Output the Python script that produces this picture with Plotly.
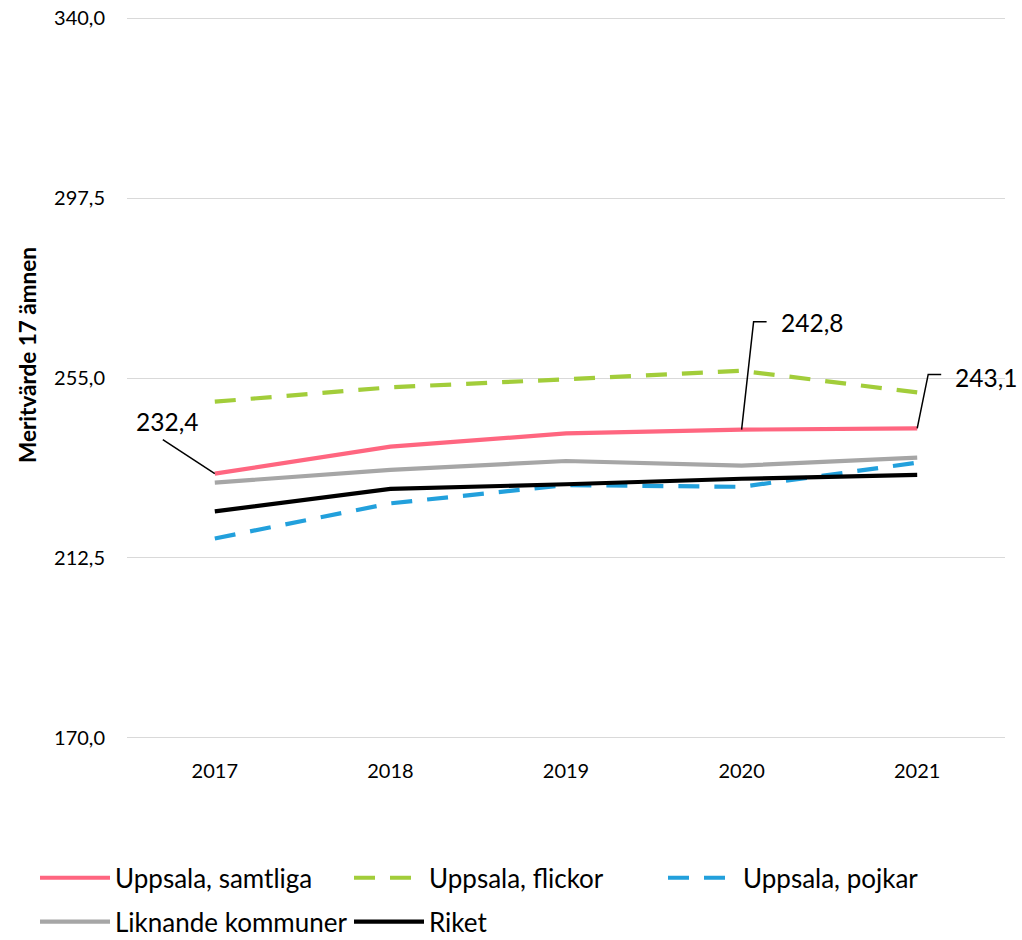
import plotly.graph_objects as go

years = [2017, 2018, 2019, 2020, 2021]
samtliga = [232.4, 238.8, 241.9, 242.8, 243.1]
flickor = [249.4, 252.8, 254.7, 256.7, 251.6]
pojkar = [217.1, 225.4, 229.7, 229.3, 235.0]
liknande = [230.3, 233.3, 235.4, 234.3, 236.2]
riket = [223.5, 228.8, 229.9, 231.2, 232.1]
ytick_vals = [170.0, 212.5, 255.0, 297.5, 340.0]

FONT = "Lato"
LBL_FONT = dict(family=FONT, size=24.5, color="#000000")

W, H = 1022, 940
YMIN, YMAX = 169.5, 340.5
PX_Y = 720 / 170.0               # pixels per unit on the y axis
PAD = (170 - YMIN) * PX_Y         # extra room so edge grid lines are drawn
ML, MR = 127, 17
MT, MB = 18 - PAD, 202 - PAD
PX_X = (W - ML - MR) / 5.0

fig = go.Figure()
series = [
    ("Uppsala, samtliga", samtliga, "#FF6680", "solid", "legend"),
    ("Uppsala, flickor", flickor, "#A2CD3A", "21px,15px", "legend"),
    ("Uppsala, pojkar", pojkar, "#22A0DC", "21px,15px", "legend"),
    ("Liknande kommuner", liknande, "#A6A6A6", "solid", "legend2"),
    ("Riket", riket, "#000000", "solid", "legend2"),
]
for name, vals, col, dash, leg in series:
    fig.add_trace(go.Scatter(
        x=years, y=vals, name=name, mode="lines",
        line=dict(color=col, width=4.2, dash=dash),
        legend=leg, hoverinfo="skip",
    ))

def dx(p):
    return p / PX_X

def dy(p):
    return -p / PX_Y

shapes = []
annots = []
# 2017 label
x0, y0 = years[0], samtliga[0]
shapes.append(dict(type="path", xref="x", yref="y",
                   path=f"M {x0},{y0} L {x0+dx(-52)},{y0+dy(-34)}",
                   line=dict(color="black", width=1.5)))
annots.append(dict(x=x0 + dx(-48), y=y0 + dy(-52), xref="x", yref="y",
                   text="232,4", showarrow=False, font=LBL_FONT))
# 2020 label
x0, y0 = years[3], samtliga[3]
shapes.append(dict(type="path", xref="x", yref="y",
                   path=f"M {x0},{y0} L {x0+dx(12)},{y0+dy(-108)} L {x0+dx(25)},{y0+dy(-108)}",
                   line=dict(color="black", width=1.5)))
annots.append(dict(x=x0 + dx(70), y=y0 + dy(-107), xref="x", yref="y",
                   text="242,8", showarrow=False, font=LBL_FONT))
# 2021 label
x0, y0 = years[4], samtliga[4]
shapes.append(dict(type="path", xref="x", yref="y",
                   path=f"M {x0},{y0} L {x0+dx(11)},{y0+dy(-54)} L {x0+dx(24)},{y0+dy(-54)}",
                   line=dict(color="black", width=1.5)))
annots.append(dict(x=x0 + dx(69), y=y0 + dy(-51), xref="x", yref="y",
                   text="243,1", showarrow=False, font=LBL_FONT))

plot_w = W - ML - MR
plot_h = H - MT - MB

def px_to_paper_x(px):
    return (px - ML) / plot_w

def px_to_paper_y(py):
    return (H - MB - py) / plot_h

# y-axis title
annots.append(dict(x=px_to_paper_x(27), y=px_to_paper_y(355),
                   xref="paper", yref="paper", showarrow=False, textangle=-90,
                   xanchor="center", yanchor="middle",
                   text="<b>Meritvärde 17 ämnen</b>",
                   font=dict(family=FONT, size=22.5, color="#000000")))

leg_common = dict(
    orientation="h", xref="paper", yref="paper",
    xanchor="left", yanchor="middle",
    font=dict(family=FONT, size=26, color="#000000"),
    entrywidth=229, entrywidthmode="pixels", itemwidth=70,
    bgcolor="rgba(0,0,0,0)",
)

fig.update_layout(
    width=W, height=H,
    margin=dict(l=ML, r=MR, t=MT, b=MB, autoexpand=False),
    paper_bgcolor="white", plot_bgcolor="white",
    separators=", ",
    showlegend=True,
    shapes=shapes,
    annotations=annots,
    legend=dict(x=px_to_paper_x(35), y=px_to_paper_y(878), **leg_common),
    legend2=dict(x=px_to_paper_x(35), y=px_to_paper_y(922), **leg_common),
    xaxis=dict(
        range=[2016.5, 2021.5], tickvals=years, ticktext=[str(y) for y in years],
        showgrid=False, zeroline=False, showline=False,
        tickfont=dict(family=FONT, size=20, color="#000000"),
        ticks="outside", ticklen=11 + PAD, tickcolor="rgba(0,0,0,0)",
    ),
    yaxis=dict(
        range=[YMIN, YMAX], tickvals=ytick_vals, tickformat=".1f",
        showgrid=True, gridcolor="#D9D9D9", gridwidth=1.3,
        zeroline=False, showline=False, ticklabeloverflow="allow",
        tickfont=dict(family=FONT, size=20, color="#000000"),
        ticks="outside", ticklen=17, tickcolor="rgba(0,0,0,0)",
    ),
)

fig.write_html("out.html",
               config={"displayModeBar": False},
               post_script="document.body.style.margin='0px';"
                           "document.body.style.overflow='hidden';")
